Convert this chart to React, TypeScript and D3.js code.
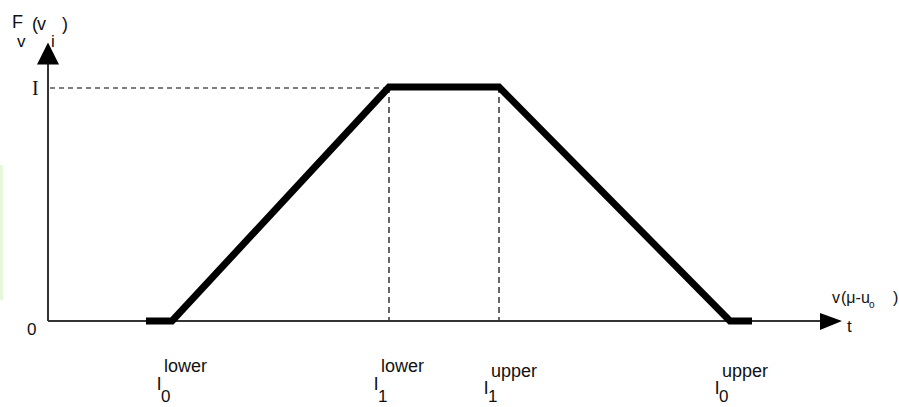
import React from "react";
import * as d3 from "d3";

// Breakpoints of the trapezoidal membership function (horizontal units)
const breakpointNames = ["start", "l0lower", "l1lower", "l1upper", "l0upper", "end"];
const breakpointX = [98, 124, 341, 451, 682, 704];
const membershipY = [0, 0, 1, 1, 0, 0];

// Dashed guide lines: the plateau level and the two inner breakpoints
const guideBreakpoints = ["l1lower", "l1upper"];

// Tick labels under the horizontal axis
const tickLabels = [
  { at: "l0lower", sup: "lower", sub: "0" },
  { at: "l1lower", sup: "lower", sub: "1" },
  { at: "l1upper", sup: "upper", sub: "1" },
  { at: "l0upper", sup: "upper", sub: "0" },
];

const W = 899;
const H = 407;
const FONT = "'Liberation Sans', Arial, sans-serif";

export default function App() {
  const x = d3.scaleLinear().domain([0, 792]).range([48, 840]);
  const y = d3.scaleLinear().domain([0, 1]).range([321, 87]);
  const bx = (name: string) => x(breakpointX[breakpointNames.indexOf(name)]);

  const pts: [number, number][] = breakpointX.map((v, i) => [x(v), y(membershipY[i])]);
  const path = d3.line()(pts) ?? "";

  const x0 = x(0);
  const y0 = y(0);
  const yTop = y(1.19);
  const xEnd = x(792);

  return (
    <svg
      width={W}
      height={H}
      style={{ position: "absolute", left: 0, top: 0, background: "#fff" }}
    >
      <rect x={0} y={0} width={W} height={H} fill="#fff" />
      <rect x={0} y={165} width={3} height={135} fill="#e6f7dc" />

      {/* dashed guides */}
      <line x1={x0 + 2} x2={bx("l1lower")} y1={y(1) + 1} y2={y(1) + 1} stroke="#000" strokeWidth={1.2} strokeDasharray="5,4" />
      {guideBreakpoints.map((b) => (
        <line key={b} x1={bx(b)} x2={bx(b)} y1={y(1)} y2={y0} stroke="#000" strokeWidth={1.2} strokeDasharray="6,4" />
      ))}

      {/* axes */}
      <line x1={x0} x2={x0} y1={y0} y2={yTop + 15} stroke="#333" strokeWidth={2} />
      <path d={`M${x0},${yTop} L${x0 - 11},${yTop + 22} L${x0 + 11},${yTop + 22} Z`} fill="#000" />
      <line x1={x0} x2={xEnd - 15} y1={y0} y2={y0} stroke="#333" strokeWidth={2} />
      <path d={`M${xEnd + 2},${y0} L${xEnd - 20},${y0 - 8} L${xEnd - 20},${y0 + 9} Z`} fill="#000" />

      {/* membership function */}
      <path d={path} fill="none" stroke="#000" strokeWidth={7} strokeLinejoin="miter" />

      {/* y-axis labels */}
      <g fontFamily={FONT} fill="#111">
        <text x={12} y={28} fontSize={18}>F</text>
        <text x={17} y={47} fontSize={17}>v</text>
        <text x={32} y={30} fontSize={18}>(</text>
        <text x={37} y={30} fontSize={18}>v</text>
        <text x={62} y={30} fontSize={18}>)</text>
        <text x={51} y={47} fontSize={17}>i</text>
        <text x={32} y={y(1) + 8} fontSize={20} fontFamily="'Liberation Serif', serif">I</text>
        <text x={27} y={y0 + 14} fontSize={17}>0</text>

        {/* x-axis labels */}
        <text x={832} y={303} fontSize={16}>v</text>
        <text x={841} y={303} fontSize={16}>(μ-u</text>
        <text x={869} y={308} fontSize={10}>o</text>
        <text x={893} y={303} fontSize={16}>)</text>
        <text x={847} y={332} fontSize={17}>t</text>

        {tickLabels.map((t) => {
          const cx = bx(t.at);
          const up = t.sup === "upper";
          return (
            <g key={t.at}>
              <text x={cx - 15} y={up ? 394 : 390} fontSize={19}>l</text>
              <text x={cx - 8} y={up ? 377 : 372} fontSize={18}>{t.sup}</text>
              <text x={cx - 11} y={up ? 402 : 402} fontSize={17}>{t.sub}</text>
            </g>
          );
        })}
      </g>
    </svg>
  );
}
